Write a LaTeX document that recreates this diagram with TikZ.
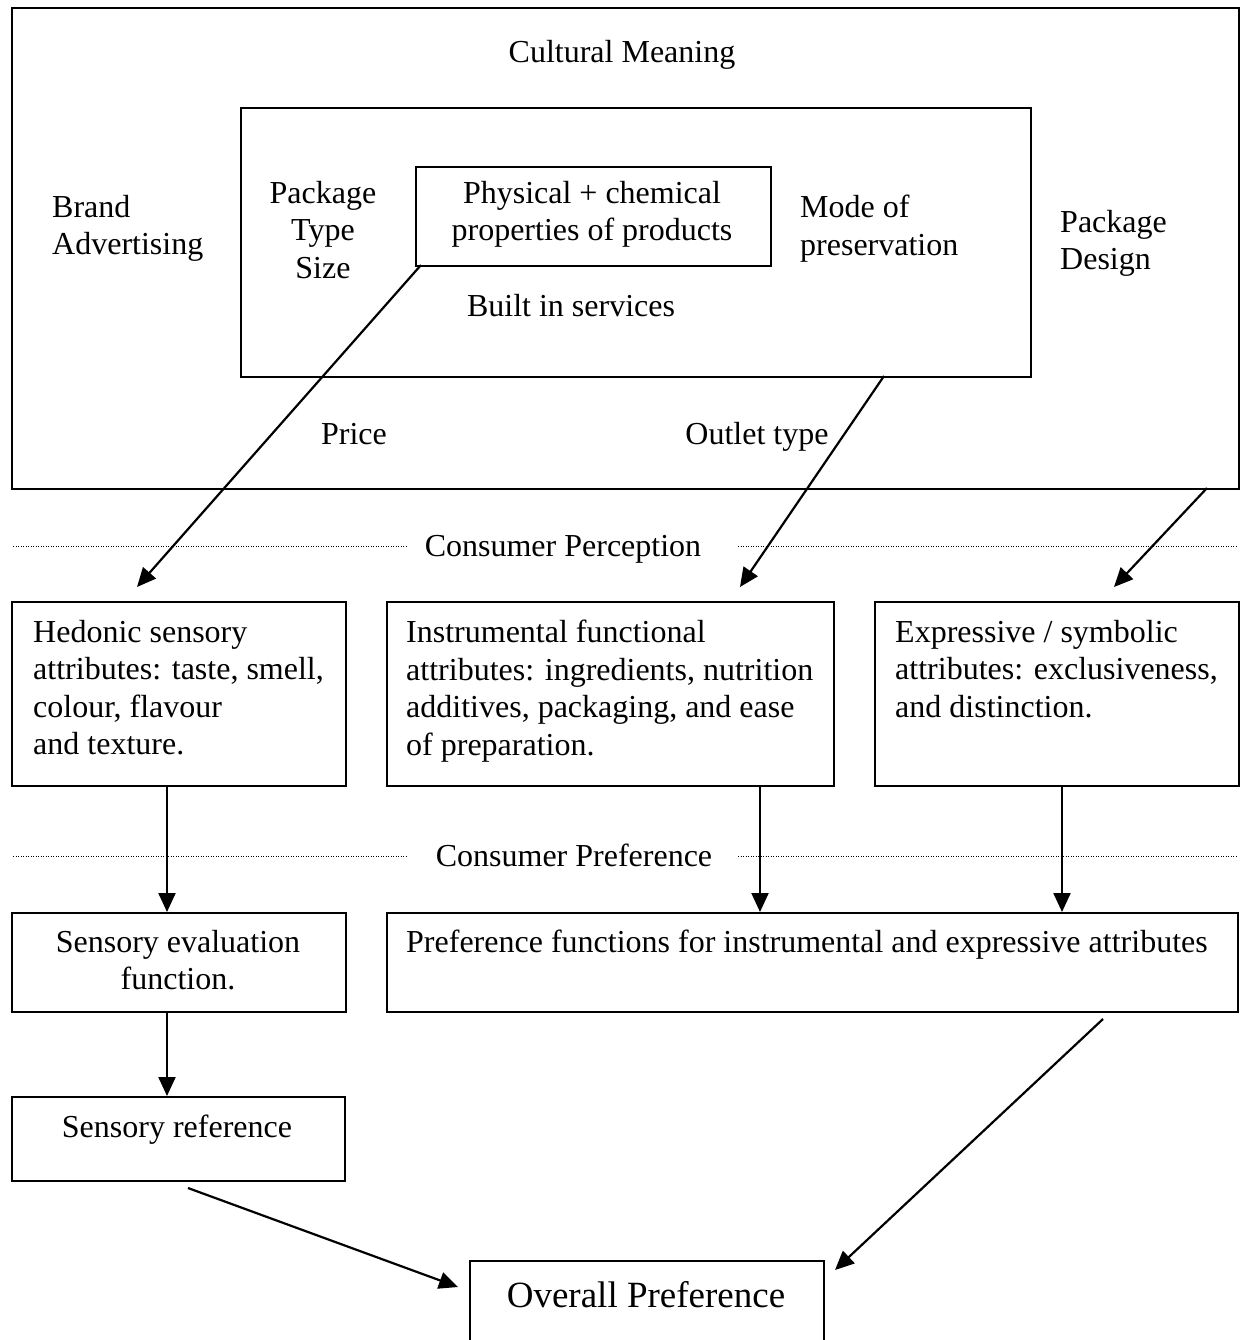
\documentclass[tikz,border=0pt]{standalone}
\usepackage{fontspec}
\setmainfont{Liberation Serif}
\usetikzlibrary{arrows.meta}
\tikzset{
  box/.style={draw, line width=2pt, inner sep=0pt, anchor=north west},
  txt/.style={inner sep=0pt, font=\fontsize{32}{37.5}\selectfont},
  bigtxt/.style={inner sep=0pt, font=\fontsize{37}{42}\selectfont},
  arr/.style={line width=2.2pt, -{Triangle[length=19pt,width=17pt]}},
  dotline/.style={line width=1pt, dash pattern=on 1.2pt off 1.3pt}
}
\begin{document}
\begin{tikzpicture}[x=1pt,y=-1pt]
\clip (0,0) rectangle (1243,1340);
\fill[white] (0,0) rectangle (1243,1340);

% top region boxes
\node[box, minimum width=1227pt, minimum height=481pt] (outer) at (11,7) {};
\node[box, minimum width=790pt, minimum height=269pt] (inner) at (240,107) {};
\node[box, minimum width=355pt, minimum height=99pt] (phys) at (415,166) {};

\node[txt, anchor=base] (cult) at (622,63) {Cultural Meaning};
\node[txt, anchor=north west, align=left] (brand) at (52,195) {Brand\\Advertising};
\node[txt, anchor=north, align=center] (pack) at (323,181) {Package\\Type\\Size};
\node[txt, anchor=north, align=center] (physt) at (592,181) {Physical + chemical\\properties of products};
\node[txt, anchor=north west, align=left] (mode) at (800,195) {Mode of\\preservation};
\node[txt, anchor=north west, align=left] (pdes) at (1060,210) {Package\\Design};
\node[txt, anchor=base] (built) at (571,316) {Built in services};
\node[txt, anchor=base] (price) at (354,444) {Price};
\node[txt, anchor=base] (outlet) at (757,444) {Outlet type};

% perception line
\node[txt, anchor=base] (perc) at (563,556) {Consumer Perception};
\draw[dotline] (13,546) -- (407,546);
\draw[dotline] (738,546) -- (1237,546);

% row 2 boxes
\node[box, minimum width=334pt, minimum height=184pt] (hed) at (11,601) {};
\node[box, minimum width=447pt, minimum height=184pt] (ins) at (386,601) {};
\node[box, minimum width=364pt, minimum height=184pt] (exp) at (874,601) {};
\node[txt, anchor=north west, align=left] (hedt) at (33,620) {Hedonic sensory\\attributes: taste, smell,\\colour, flavour\\and texture.};
\node[txt, anchor=north west, align=left] (inst) at (406,620) {Instrumental functional\\attributes: ingredients, nutrition\\additives, packaging, and ease\\of preparation.};
\node[txt, anchor=north west, align=left] (expt) at (895,620) {Expressive / symbolic\\attributes: exclusiveness,\\and distinction.};

% preference line
\node[txt, anchor=base] (pref) at (574,866) {Consumer Preference};
\draw[dotline] (13,856) -- (407,856);
\draw[dotline] (738,856) -- (1237,856);

% row 3 boxes
\node[box, minimum width=334pt, minimum height=99pt] (sef) at (11,912) {};
\node[box, minimum width=851pt, minimum height=99pt] (pff) at (386,912) {};
\node[txt, anchor=north, align=center] (seft) at (178,930) {Sensory evaluation\\function.};
\node[txt, anchor=base west] (pfft) at (406,952) {Preference functions for instrumental and expressive attributes};

% row 4
\node[box, minimum width=333pt, minimum height=84pt] (sref) at (11,1096) {};
\node[txt, anchor=base] (sreft) at (177,1137) {Sensory reference};
\node[box, minimum width=354pt, minimum height=120pt] (over) at (469,1260) {};
\node[bigtxt, anchor=base] (overt) at (646,1307) {Overall Preference};

% arrow coordinates
\coordinate (a1s) at (421,265);
\coordinate (a1e) at (137,587);
\coordinate (a2s) at (884,376);
\coordinate (a2e) at (740,587);
\coordinate (a3s) at (1207,488);
\coordinate (a3e) at (1114,587);
\coordinate (v1) at (167,0);
\coordinate (v2) at (760,0);
\coordinate (v3) at (1062,0);
\coordinate (a7s) at (188,1188);
\coordinate (a7e) at (458,1287);
\coordinate (a8s) at (1103,1019);
\coordinate (a8e) at (835,1270);

\draw[arr] (a1s) -- (a1e);
\draw[arr] (a2s) -- (a2e);
\draw[arr] (a3s) -- (a3e);
\draw[arr] (hed.south -| v1) -- (sef.north -| v1);
\draw[arr] (ins.south -| v2) -- (pff.north -| v2);
\draw[arr] (exp.south -| v3) -- (pff.north -| v3);
\draw[arr] (sef.south -| v1) -- (sref.north -| v1);
\draw[arr] (a7s) -- (a7e);
\draw[arr] (a8s) -- (a8e);
\end{tikzpicture}
\end{document}
